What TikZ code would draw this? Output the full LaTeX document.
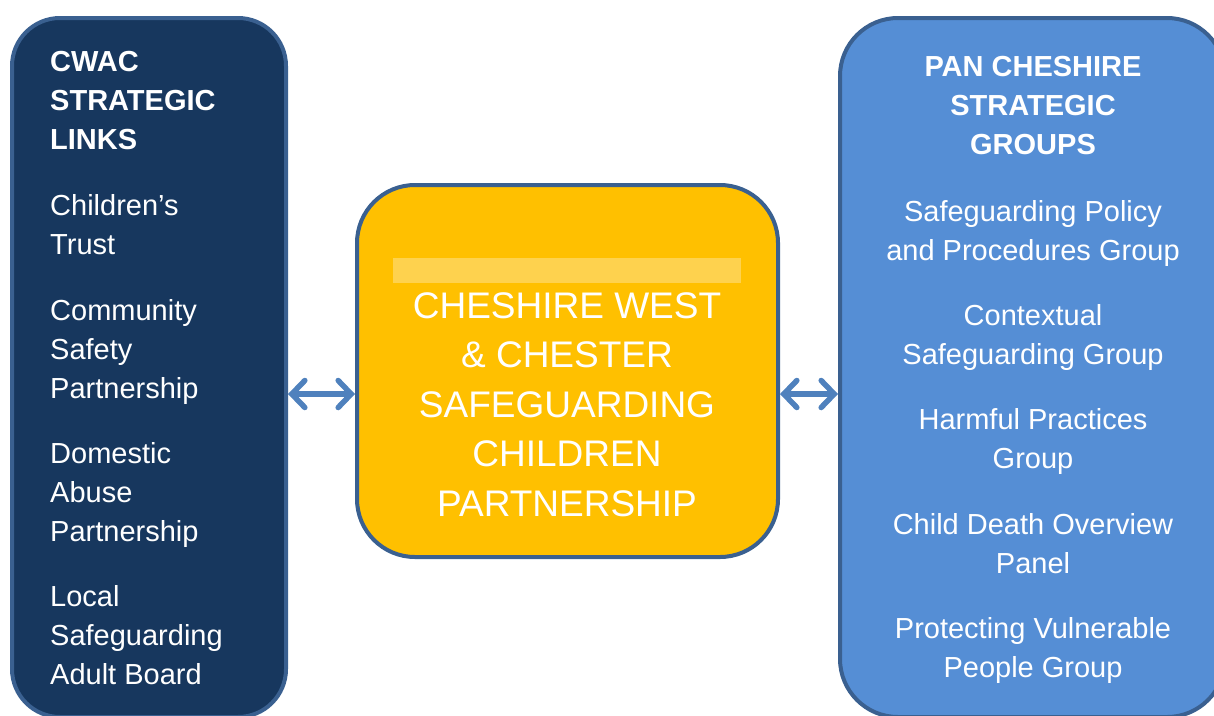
\documentclass[tikz,border=0pt]{standalone}
\usepackage{fontspec}
\setmainfont{Liberation Sans}
\usetikzlibrary{arrows.meta}
\definecolor{navy}{HTML}{17375E}
\definecolor{edgeblue}{HTML}{3A6090}
\definecolor{skyblue}{HTML}{558ED5}
\definecolor{gold}{HTML}{FFC000}
\definecolor{glow}{HTML}{FED24E}
\definecolor{arrowblue}{HTML}{4F81BD}
\tikzset{
  box/.style={draw=edgeblue,line width=4pt,inner sep=0pt},
  itemtext/.style={text=white,inner sep=0pt,font=\fontsize{29}{39}\selectfont},
  headtext/.style={itemtext,font=\bfseries\fontsize{29}{39}\selectfont},
  link/.style={{Straight Barb[length=13pt,width=27pt,line cap=round]}-{Straight Barb[length=13pt,width=27pt,line cap=round]},
    line width=5.5pt,arrowblue,line cap=round}
}
\begin{document}
\begin{tikzpicture}[x=1pt,y=-1pt]
\useasboundingbox (0,0) rectangle (1214,715);
\clip (0,0) rectangle (1214,715);
% the three boxes
\node[box,fill=navy,rounded corners=48pt,minimum width=274pt,minimum height=699pt] (lbox) at (149,367.5) {};
\node[box,fill=skyblue,rounded corners=58pt,minimum width=385pt,minimum height=699pt] (rbox) at (1032.5,367.5) {};
\node[box,fill=gold,rounded corners=58pt,minimum width=421pt,minimum height=372pt] (cbox) at (567.5,371) {};
\fill[glow] (393,258) rectangle (741,283);
% left column
\node[headtext,anchor=north west,align=left] (lhead) at (50,51) {CWAC\\STRATEGIC\\LINKS};
\node[itemtext,anchor=north west,align=left] (l1) at (50,194) {Children’s\\Trust};
\node[itemtext,anchor=north west,align=left] (l2) at (50,299) {Community\\Safety\\Partnership};
\node[itemtext,anchor=north west,align=left] (l3) at (50,442) {Domestic\\Abuse\\Partnership};
\node[itemtext,anchor=north west,align=left] (l4) at (50,585) {Local\\Safeguarding\\Adult Board};
% centre
\node[itemtext,anchor=north,align=center,font=\fontsize{37}{49.5}\selectfont] (ctext) at (567,292)
  {CHESHIRE WEST\\\& CHESTER\\SAFEGUARDING\\CHILDREN\\PARTNERSHIP};
% right column
\node[headtext,anchor=north,align=center] (rhead) at (1033,56) {PAN CHESHIRE\\STRATEGIC\\GROUPS};
\node[itemtext,anchor=north,align=center] (r1) at (1033,200) {Safeguarding Policy\\and Procedures Group};
\node[itemtext,anchor=north,align=center] (r2) at (1033,304) {Contextual\\Safeguarding Group};
\node[itemtext,anchor=north,align=center] (r3) at (1033,408) {Harmful Practices\\Group};
\node[itemtext,anchor=north,align=center] (r4) at (1033,513) {Child Death Overview\\Panel};
\node[itemtext,anchor=north,align=center] (r5) at (1033,617) {Protecting Vulnerable\\People Group};
% links
\coordinate (arr) at (0,394);
\draw[link] (lbox.east |- arr) -- (cbox.west |- arr);
\draw[link] (cbox.east |- arr) -- (rbox.west |- arr);
\end{tikzpicture}
\end{document}
